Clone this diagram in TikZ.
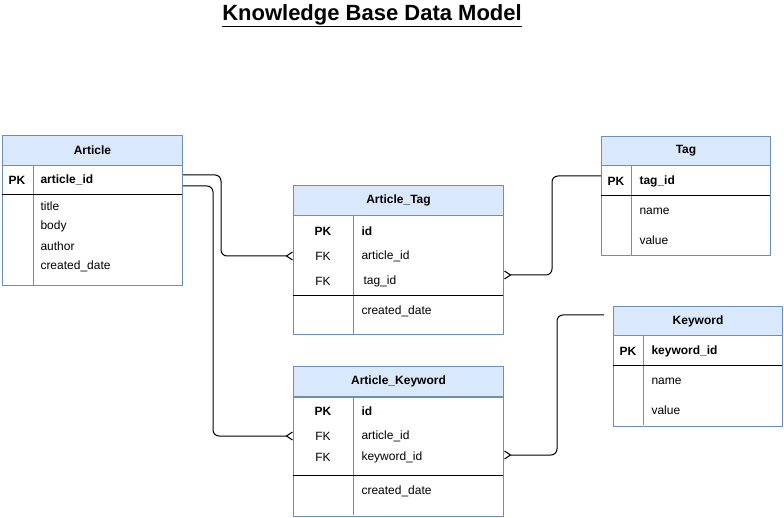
\documentclass[tikz,border=0pt]{standalone}
\usepackage{fontspec}
\setmainfont{Liberation Sans}
\usetikzlibrary{arrows.meta}
\definecolor{tblBorder}{HTML}{6C8EBF}
\definecolor{tblFill}{HTML}{DAE8FC}
\newcommand{\erFont}{\fontsize{12}{14}\selectfont}
\tikzstyle{headBox} = [shape=rectangle, draw=tblBorder, fill=tblFill, anchor=north west,
	minimum height=30pt, inner sep=0pt, font=\erFont\bfseries]
\tikzstyle{bodyBox} = [draw=tblBorder, line width=1pt]
\tikzstyle{keyText} = [inner sep=0pt, font=\erFont\bfseries]
\tikzstyle{fkText} = [inner sep=0pt, font=\erFont]
\tikzstyle{fieldText} = [inner sep=0pt, anchor=west, font=\erFont]
\tikzstyle{idText} = [fieldText, font=\erFont\bfseries]
\tikzstyle{relLine} = [line width=1pt, rounded corners=6pt,
	-{Straight Barb[reversed, length=6pt, width=8pt]}]

\begin{document}
\begin{tikzpicture}[x=1pt, y=-1pt, line width=1pt]
  \useasboundingbox (0,0) rectangle (784,518);

  \node (title) [font=\fontsize{22}{26}\selectfont\bfseries] at (372,16) {\underline{Knowledge Base Data Model}};

  % Article
  \node (art) [headBox, minimum width=180pt] at (2,135) {Article};
  \draw [bodyBox] (art.south west) rectangle ++(180,120);
  \draw [bodyBox] (33,165) -- (33,285);
  \draw (2,195) -- (182,195);
  \node (artpk) [keyText] at (17,180) {PK};
  \node (artid) [idText] at (40,180) {article\_id};
  \node (arttitle) [fieldText] at (40,206) {title};
  \node (artbody) [fieldText] at (40,226) {body};
  \node (artauthor) [fieldText] at (40,246) {author};
  \node (artdate) [fieldText] at (40,266) {created\_date};

  % Article_Tag
  \node (at) [headBox, minimum width=210pt] at (293,185) {Article\_Tag};
  \draw [bodyBox] (at.south west) rectangle ++(210,119);
  \draw [bodyBox] (353,215) -- (353,334);
  \draw (293,296) -- (503,296);
  \node (atpk) [keyText] at (323,231) {PK};
  \node (atfk1) [fkText] at (323,256) {FK};
  \node (atfk2) [fkText] at (323,281) {FK};
  \node (atid) [idText] at (361,231) {id};
  \node (atart) [fieldText] at (361,256) {article\_id};
  \node (attag) [fieldText] at (363,281) {tag\_id};
  \node (atdate) [fieldText] at (361,311) {created\_date};

  % Article_Keyword
  \node (ak) [headBox, minimum width=210pt] at (293,366) {Article\_Keyword};
  \draw [bodyBox] (ak.south west) rectangle ++(210,119);
  \draw [bodyBox] (353,396) -- (353,515);
  \draw (293,475) -- (503,475);
  \node (akpk) [keyText] at (323,411) {PK};
  \node (akfk1) [fkText] at (323,436) {FK};
  \node (akfk2) [fkText] at (323,457) {FK};
  \node (akid) [idText] at (361,411) {id};
  \node (akart) [fieldText] at (361,436) {article\_id};
  \node (akkw) [fieldText] at (361,457) {keyword\_id};
  \node (akdate) [fieldText] at (361,491) {created\_date};

  % Tag
  \node (tg) [headBox, minimum width=169pt, minimum height=29pt] at (601,136) {Tag};
  \draw [bodyBox] (tg.south west) rectangle ++(169,90);
  \draw [bodyBox] (631,165) -- (631,255);
  \draw (601,196) -- (770,196);
  \node (tgpk) [keyText] at (616,181) {PK};
  \node (tgid) [idText] at (639,181) {tag\_id};
  \node (tgname) [fieldText] at (639,211) {name};
  \node (tgvalue) [fieldText] at (639,240) {value};

  % Keyword
  \node (kw) [headBox, minimum width=169pt, minimum height=29pt] at (613,306) {Keyword};
  \draw [bodyBox] (kw.south west) rectangle ++(169,90);
  \draw [bodyBox] (643,335) -- (643,425);
  \draw (613,365) -- (782,365);
  \node (kwpk) [keyText] at (628,351) {PK};
  \node (kwid) [idText] at (651,351) {keyword\_id};
  \node (kwname) [fieldText] at (651,381) {name};
  \node (kwvalue) [fieldText] at (651,410) {value};

  % relations
  \draw [relLine] ([yshift=5pt]artid.west -| art.east) -- ++(38,0) |- (atart.west -| at.west);
  \draw [relLine] ([yshift=-6pt]artid.west -| art.east) -- ++(30,0) |- (akart.west -| ak.west);
  \draw [relLine] ([yshift=5pt]tgid.west -| tg.west) -- ++(-49,0) |- ([yshift=6pt]attag.west -| at.east);
  \draw [relLine, shorten <=9pt] ([yshift=6pt]kw.west) -- ++(-56,0) |- ([yshift=2pt]akkw.west -| ak.east);

\end{tikzpicture}
\end{document}
